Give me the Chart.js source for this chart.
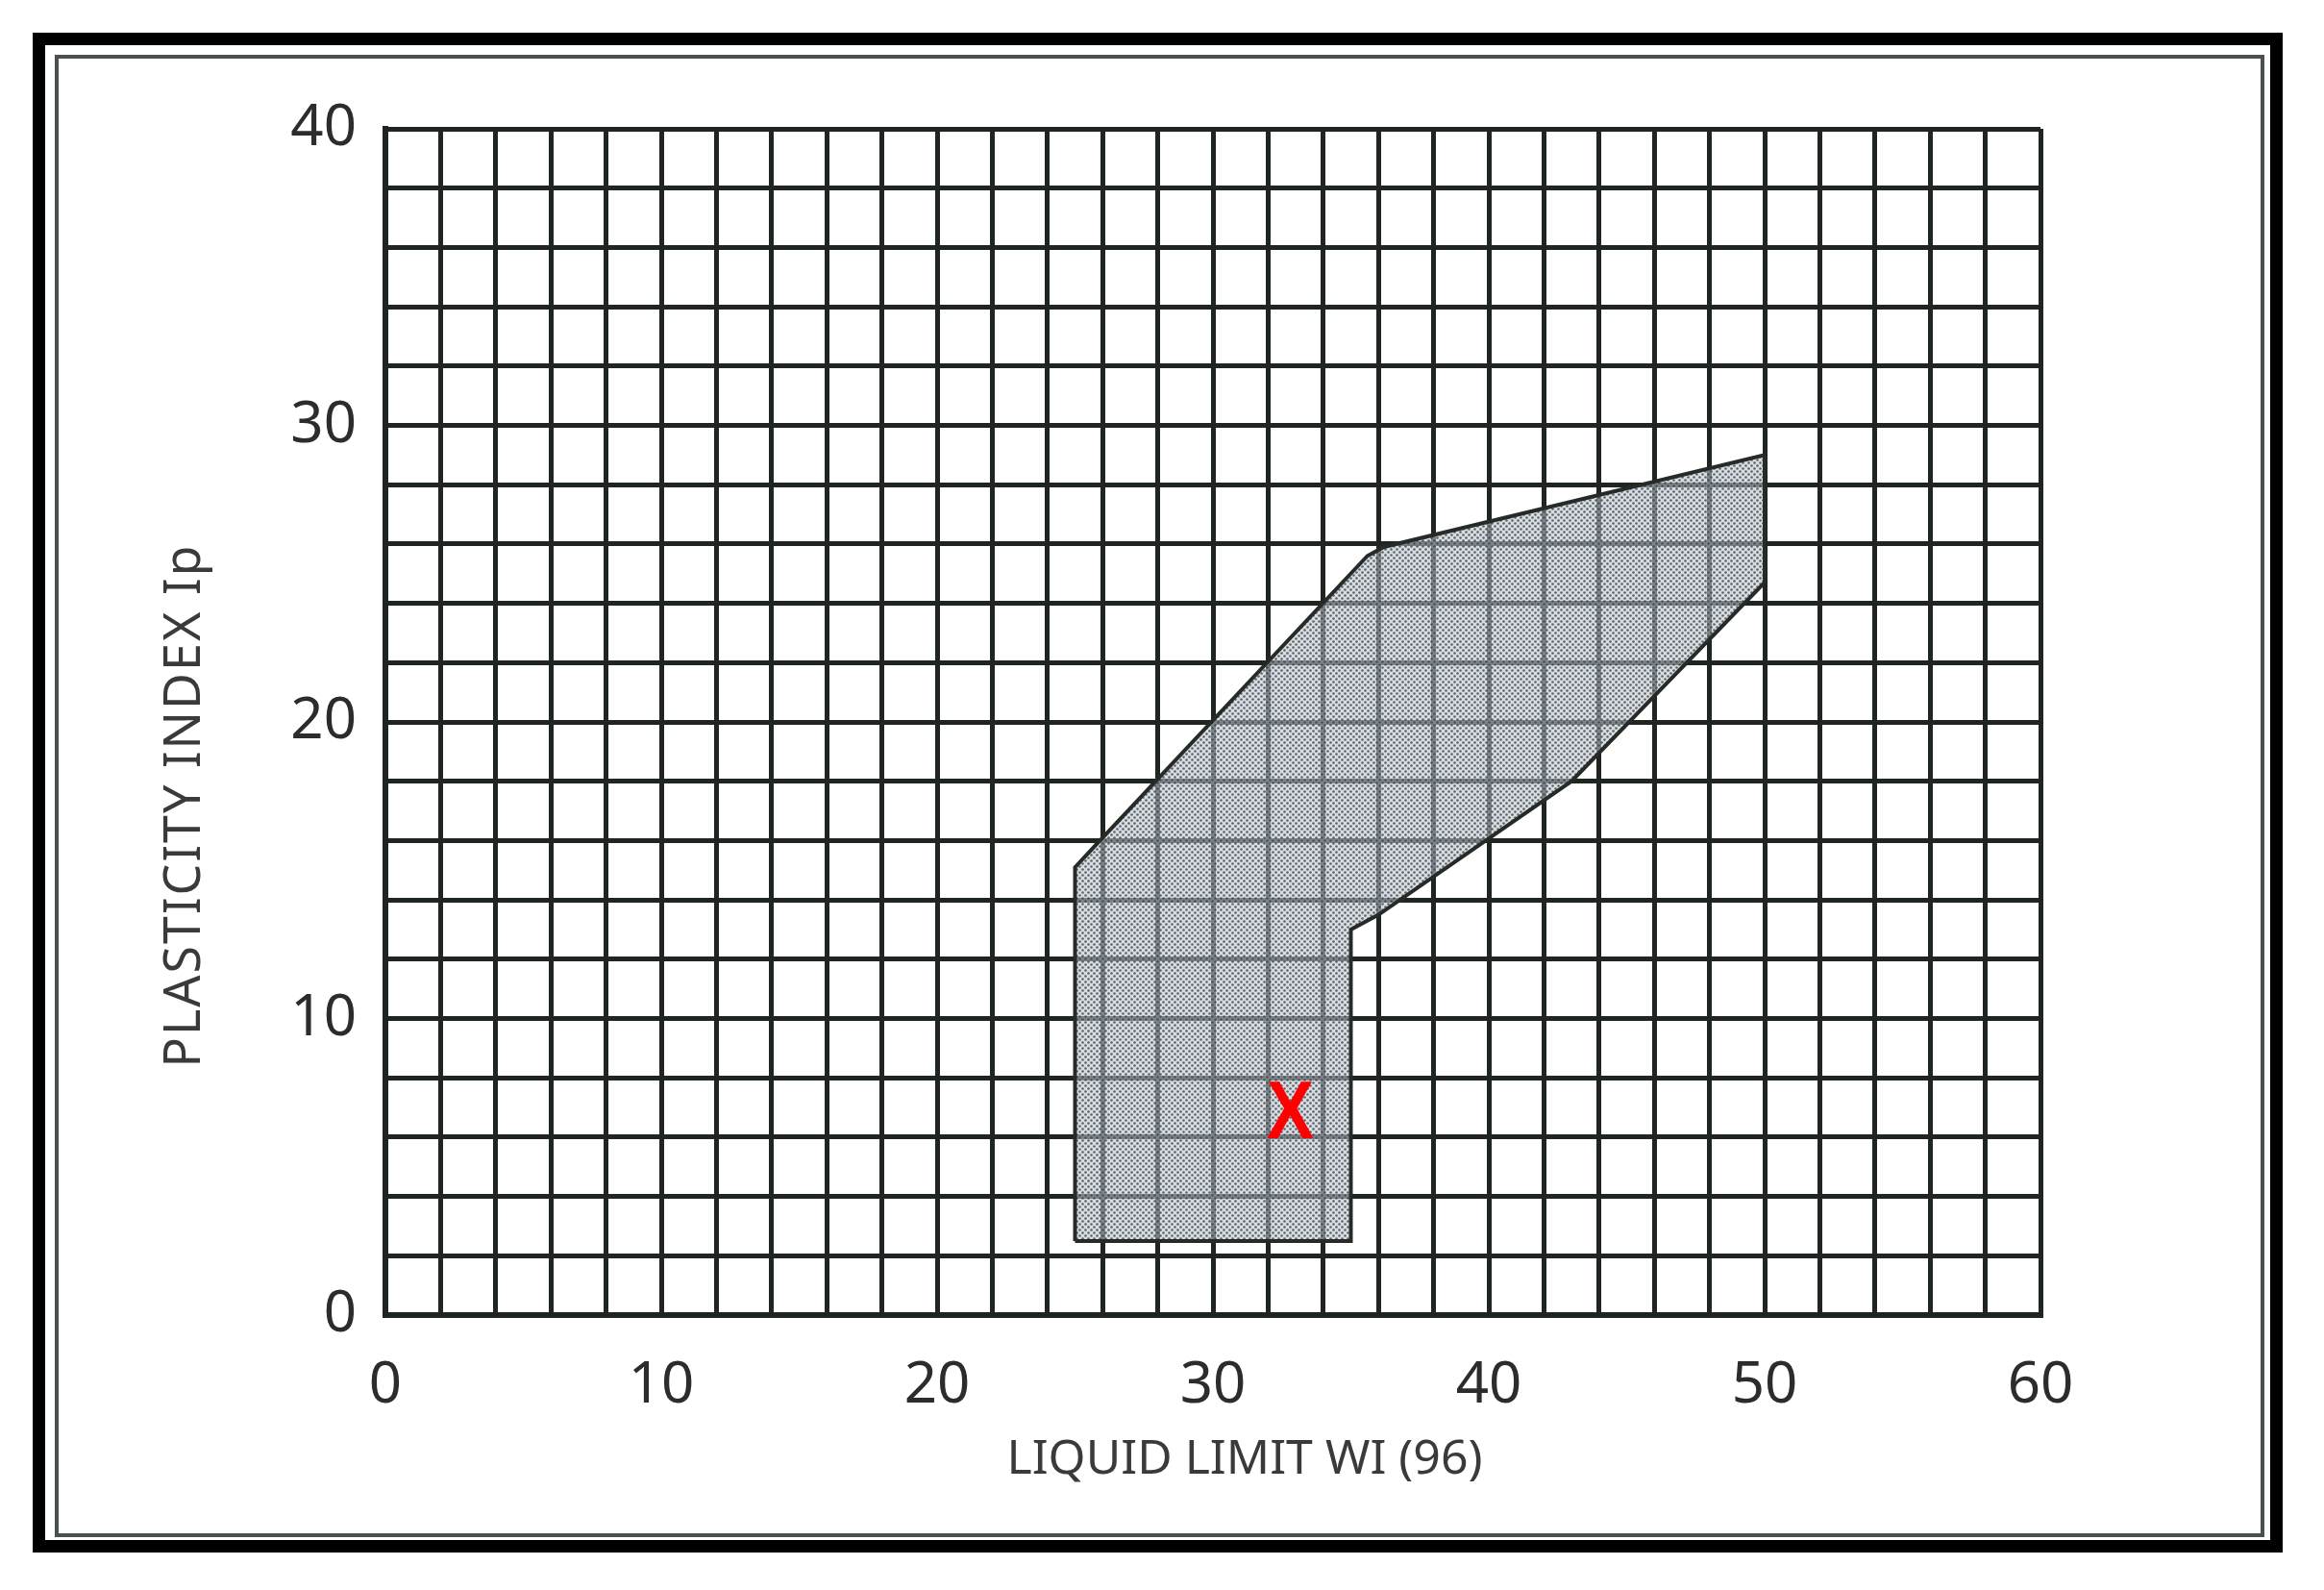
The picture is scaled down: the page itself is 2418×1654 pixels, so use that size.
<!DOCTYPE html>
<html>
<head>
<meta charset="utf-8">
<title>Plasticity chart</title>
<script src="https://cdn.jsdelivr.net/npm/chart.js@4.4.1/dist/chart.umd.min.js"></script>
<style>
  html, body { margin: 0; padding: 0; background: #ffffff; }
  body { width: 2418px; height: 1654px; position: relative; overflow: hidden; }
  #frame { position: absolute; left: 34px; top: 34px; width: 2341px; height: 1581px;
           border: 13px solid #000; box-sizing: border-box; }
  #inner { position: absolute; left: 57px; top: 57px; width: 2299px; height: 1542px;
           border: 4px solid #4a4f4f; box-sizing: border-box; }
  #chart { position: absolute; left: 0; top: 0; }
</style>
</head>
<body>
<div id="frame"></div>
<div id="inner"></div>
<canvas id="chart" width="2418" height="1654"></canvas>
<script>
// axis ticks shown as labels
const xTickLabels = [0, 10, 20, 30, 40, 50, 60];
const yTickLabels = [0, 10, 20, 30, 40];

// shaded zone outline (liquid limit / plasticity index)
const zoneLL = [25, 25, 25.7, 35.6, 36.2, 50, 50, 43, 36, 35, 35, 25];
const zonePI = [2.5, 15.1, 15.8, 25.6, 25.9, 29, 24.7, 18, 13.5, 13, 2.5, 2.5];

// sample point marked with a red X
const markLL = [32.8];
const markPI = [6.8];

const xTitle = 'LIQUID LIMIT WI (96)';
const yTitle = 'PLASTICITY INDEX Ip';

// dotted halftone pattern for the zone
function makePattern() {
  const c = document.createElement('canvas');
  c.width = 6; c.height = 6;
  const g = c.getContext('2d');
  g.fillStyle = 'rgba(190,198,206,0.6)';
  g.fillRect(0, 0, 6, 6);
  g.fillStyle = 'rgba(60,66,72,0.8)';
  g.beginPath(); g.arc(1.5, 1.5, 1.3, 0, Math.PI * 2); g.fill();
  g.beginPath(); g.arc(4.5, 4.5, 1.3, 0, Math.PI * 2); g.fill();
  return g.createPattern(c, 'repeat');
}

const ctx = document.getElementById('chart').getContext('2d');

const overlay = {
  id: 'overlay',
  afterDatasetsDraw(chart) {
    const c = chart.ctx, s = chart.scales;
    c.save();
    c.fillStyle = '#ff0000';
    c.font = 'bold 86px "Liberation Sans"';
    c.textAlign = 'center';
    c.textBaseline = 'middle';
    markLL.forEach((v, i) => {
      c.save();
      c.translate(s.x.getPixelForValue(v), s.y.getPixelForValue(markPI[i]));
      c.scale(0.86, 1);
      c.fillText('X', 0, 2);
      c.restore();
    });
    c.restore();
  },
  afterDraw(chart) {
    const c = chart.ctx, a = chart.chartArea;
    c.save();
    c.fillStyle = '#3a3a3a';
    c.textAlign = 'center';
    c.textBaseline = 'middle';
    c.font = '50px "Noto Sans"';
    c.fillText(xTitle, (a.left + a.right) / 2 + 33, a.bottom + 151);
    c.translate(a.left - 208, (a.top + a.bottom) / 2 + 87);
    c.rotate(-Math.PI / 2);
    c.font = '52px "Noto Sans"';
    c.letterSpacing = '2px';
    c.fillText(yTitle, 0, 0);
    c.restore();
  }
};

const gridColor = '#1f2521';

new Chart(ctx, {
  type: 'scatter',
  data: {
    datasets: [{
      label: 'zone',
      data: zoneLL.map((v, i) => ({ x: v, y: zonePI[i] })),
      showLine: true,
      fill: 'shape',
      backgroundColor: makePattern(),
      borderColor: '#262b27',
      borderWidth: 4,
      tension: 0,
      pointRadius: 0
    }]
  },
  options: {
    responsive: false,
    animation: false,
    layout: { padding: { left: 301, right: 295, top: 134, bottom: 186 } },
    plugins: { legend: { display: false }, tooltip: { enabled: false } },
    scales: {
      x: {
        type: 'linear', min: 0, max: 60,
        afterFit: (scale) => { scale.height = 100; },
        grid: { color: gridColor, lineWidth: 5, drawTicks: false },
        border: { color: gridColor, width: 6 },
        ticks: {
          stepSize: 2, padding: 38, color: '#2c2c2c',
          autoSkip: false, maxRotation: 0, minRotation: 0,
          font: { family: 'Noto Sans', size: 60 },
          callback: (v) => xTickLabels.includes(v) ? String(v) : ''
        }
      },
      y: {
        type: 'linear', min: 0, max: 40,
        afterFit: (scale) => { scale.width = 100; },
        grid: { color: gridColor, lineWidth: 5, drawTicks: false },
        border: { color: gridColor, width: 6 },
        ticks: {
          stepSize: 2, padding: 30, color: '#2c2c2c',
          autoSkip: false,
          font: { family: 'Noto Sans', size: 60 },
          callback: (v) => yTickLabels.includes(v) ? String(v) : ''
        }
      }
    }
  },
  plugins: [overlay]
});
</script>
</body>
</html>
